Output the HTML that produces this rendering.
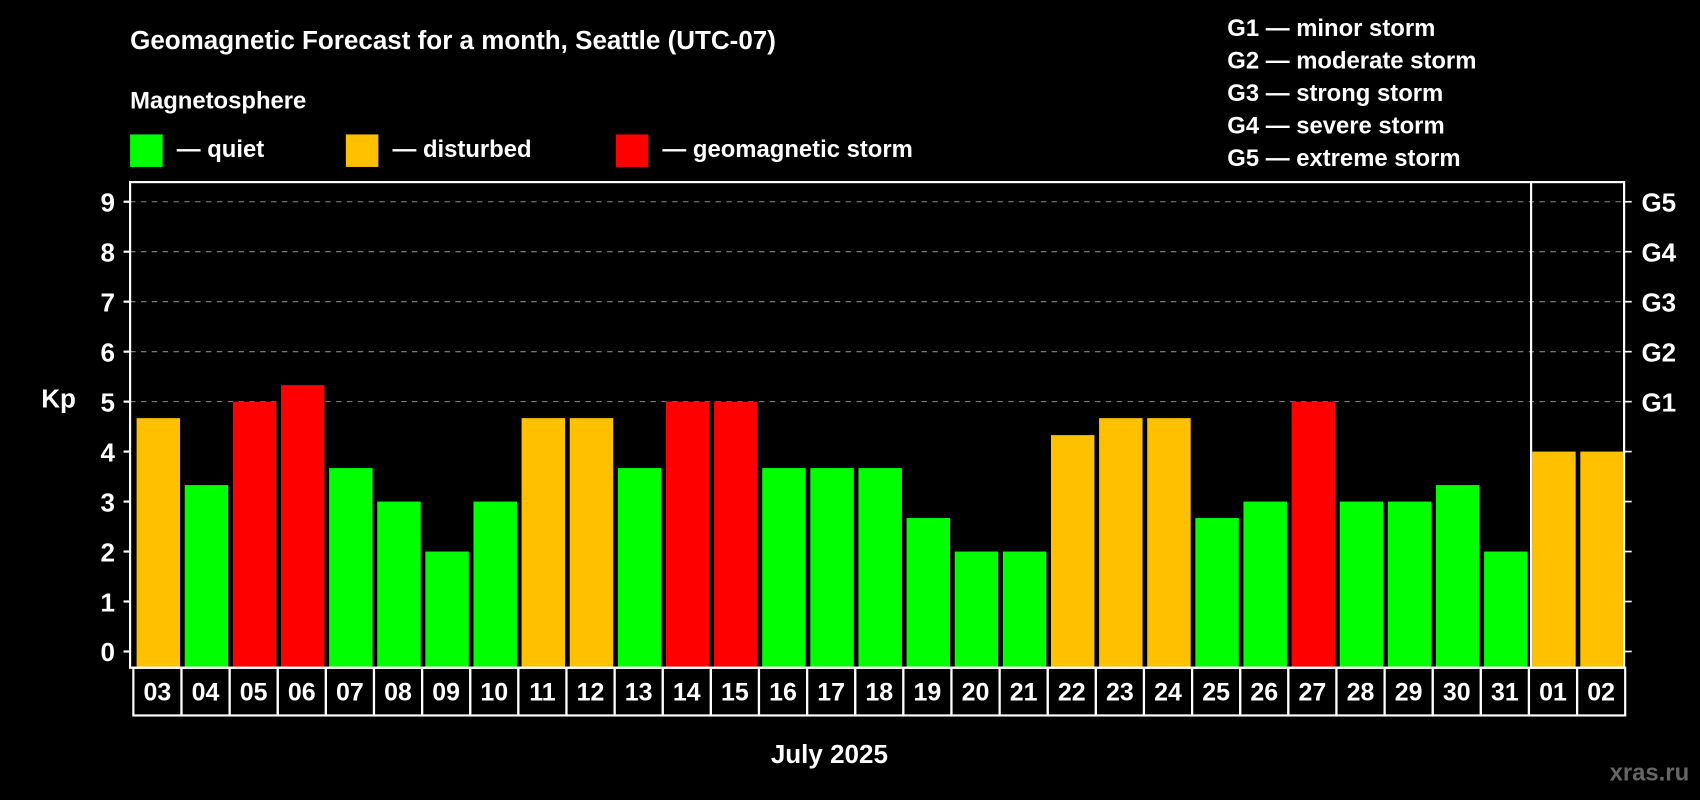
<!DOCTYPE html>
<html><head><meta charset="utf-8"><style>
html,body{margin:0;padding:0;background:#000;}
svg{display:block;font-family:"Liberation Sans",Arial,sans-serif;font-weight:bold;}
</style></head><body>
<svg id="chart" width="1700" height="800" viewBox="0 0 1568 738" preserveAspectRatio="none">
<rect width="1568" height="738" fill="#000"/>
<text x="120" y="45" fill="#fff" font-size="24">Geomagnetic Forecast for a month, Seattle (UTC-07)</text>
<text x="120" y="100" fill="#fff" font-size="22">Magnetosphere</text>
<g><rect x="120" y="124" width="30" height="30" fill="#00ff00"/><text x="163" y="145" fill="#fff" font-size="22">— quiet</text></g>
<g><rect x="319" y="124" width="30" height="30" fill="#ffc000"/><text x="362" y="145" fill="#fff" font-size="22">— disturbed</text></g>
<g><rect x="568" y="124" width="30" height="30" fill="#ff0000"/><text x="611" y="145" fill="#fff" font-size="22">— geomagnetic storm</text></g>
<g fill="#fff" font-size="22">
<text x="1132" y="33">G1 — minor storm</text>
<text x="1132" y="63">G2 — moderate storm</text>
<text x="1132" y="93">G3 — strong storm</text>
<text x="1132" y="123">G4 — severe storm</text>
<text x="1132" y="153">G5 — extreme storm</text>
</g>
<g id="grid"></g><g id="bars"></g><g id="axes"></g><g id="dates"></g>
<text x="38" y="376" fill="#fff" font-size="24">Kp</text>
<text x="765" y="704" fill="#fff" font-size="24" text-anchor="middle">July 2025</text>
<text x="1558" y="720" fill="#666" font-size="22" text-anchor="end">xras.ru</text>
</svg>
<script>
const categories=["03","04","05","06","07","08","09","10","11","12","13","14","15","16","17","18","19","20","21","22","23","24","25","26","27","28","29","30","31","01","02"];
const kpValues=[4.67,3.33,5,5.33,3.67,3,2,3,4.67,4.67,3.67,5,5,3.67,3.67,3.67,2.67,2,2,4.33,4.67,4.67,2.67,3,5,3,3,3.33,2,4,4];
const yTicks=[0,1,2,3,4,5,6,7,8,9];
const gLabels=["G1","G2","G3","G4","G5"];
const gLevels=[5,6,7,8,9];
const NS="http://www.w3.org/2000/svg";
const L=120,R=1498,T=168,B=616;
const y=v=>601-v*46.1;
const step=(R-L-2)/categories.length;
const x=i=>L+4+i*step;
function mk(t,a,p){const e=document.createElementNS(NS,t);for(const k in a)e.setAttribute(k,a[k]);p.appendChild(e);return e;}
const grid=document.getElementById('grid'),bars=document.getElementById('bars'),axes=document.getElementById('axes'),dates=document.getElementById('dates');
gLevels.forEach((g,i)=>{
 const ln=mk('line',{x1:L,x2:R,y1:y(g),y2:y(g),stroke:'#888','stroke-dasharray':'5,5','stroke-width':1},grid);
 
 
 const t=mk('text',{x:R+16,y:y(g)+9,fill:'#fff','font-size':24},axes);t.textContent=gLabels[i];
 
 
});
kpValues.forEach((v,i)=>{
 const c=v>=5?'#ff0000':(v>=4?'#ffc000':'#00ff00');
 const r=mk('rect',{x:x(i)+2,y:y(v),width:step-4.3,height:B-y(v),fill:c},bars);
 
 
});
yTicks.forEach(v=>{
 mk('line',{x1:L-6,x2:L,y1:y(v),y2:y(v),stroke:'#fff','stroke-width':2},axes);
 mk('line',{x1:R,x2:R+7,y1:y(v),y2:y(v),stroke:'#fff','stroke-width':1.5},axes);
 const t=mk('text',{x:L-14,y:y(v)+9,fill:'#fff','font-size':24,'text-anchor':'end'},axes);t.textContent=v;
 
 
});
const fr=mk('rect',{x:L,y:T,width:R-L,height:B-T,fill:'none',stroke:'#fff','stroke-width':2},axes);


const sepX=x(29)+1;
const sep=mk('line',{x1:sepX,x2:sepX,y1:T,y2:B,stroke:'#fff','stroke-width':2},axes);


categories.forEach((c,i)=>{
 const cx=x(i)-1;
 const r=mk('rect',{x:cx,y:B,width:step,height:44,fill:'none',stroke:'#fff','stroke-width':2},dates);
 
 
 const t=mk('text',{x:cx+step/2,y:B+30,fill:'#fff','font-size':23,'text-anchor':'middle'},dates);t.textContent=c;
 
 
});
</script>
</body></html>
